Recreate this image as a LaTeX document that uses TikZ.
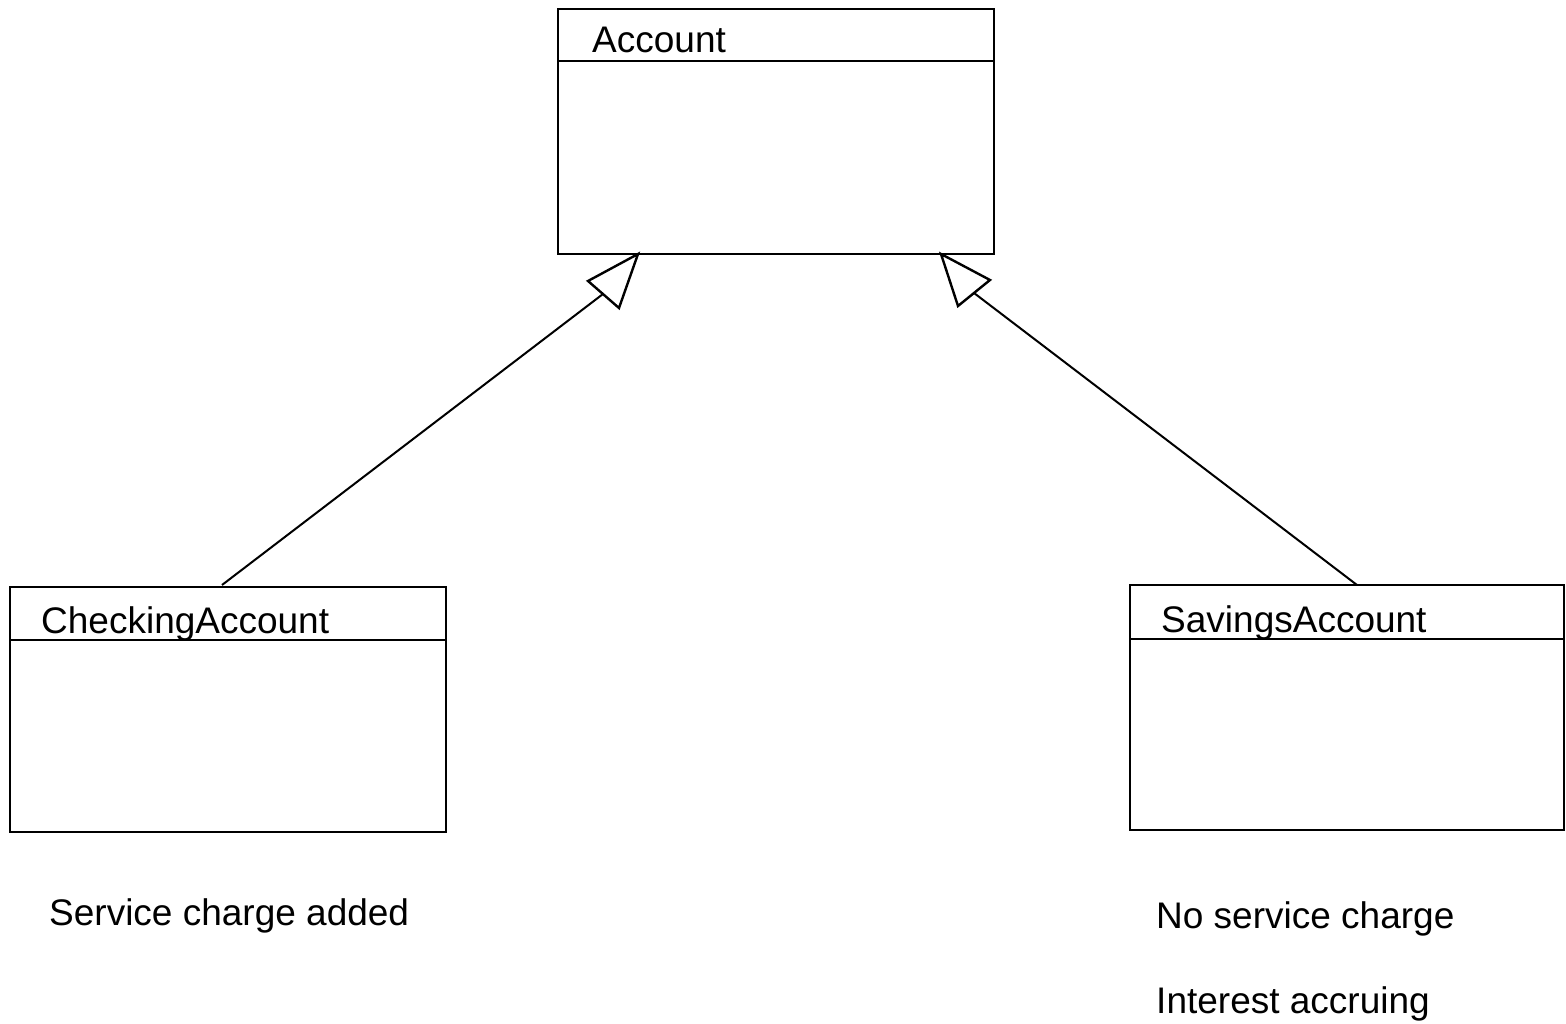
\documentclass[tikz,border=0pt]{standalone}
\usepackage{fontspec}
\setmainfont{Liberation Sans}
\begin{document}
\begin{tikzpicture}[x=1pt,y=-1pt,
  classbox/.style={draw, line width=2.6pt, minimum width=436pt, minimum height=245pt,
    anchor=north west, inner sep=0pt, outer sep=0pt},
  txt/.style={anchor=base west, inner sep=0pt, font=\fontsize{37}{44}\selectfont},
  divider/.style={line width=2pt},
  link/.style={line width=2pt},
  head/.style={line width=2.4pt, line join=miter, fill=white}]
\useasboundingbox (0,0) rectangle (1566,1024);

% class boxes
\node[classbox] (acc) at (558,9) {};
\node[classbox] (chk) at (10,587) {};
\node[classbox, minimum width=434pt] (sav) at (1130,585) {};

% name compartments
\draw[divider] (acc.west |- 0,61) -- (acc.east |- 0,61);
\draw[divider] (chk.west |- 0,640) -- (chk.east |- 0,640);
\draw[divider] (sav.west |- 0,639) -- (sav.east |- 0,639);

% class names
\node[txt] (accname) at (592,53) {Account};
\node[txt] (chkname) at (41,633) {CheckingAccount};
\node[txt] (savname) at (1161,632) {SavingsAccount};

% notes
\node[txt] (chknote) at (49,925) {Service charge added};
\node[txt] (savnote1) at (1156,928) {No service charge};
\node[txt] (savnote2) at (1156,1013) {Interest accruing};

% generalization connectors
\coordinate (c1) at (222,585);
\coordinate (b1) at (603,294);
\coordinate (c2) at (1357,585);
\coordinate (b2) at (974,293);
\draw[link] (c1) -- (b1);
\draw[link] (c2) -- (b2);

% hollow triangle heads
\draw[head] (638,254) -- (588,281) -- (619,308) -- cycle;
\draw[head] (941,254) -- (990,280) -- (958,306) -- cycle;
\end{tikzpicture}
\end{document}
